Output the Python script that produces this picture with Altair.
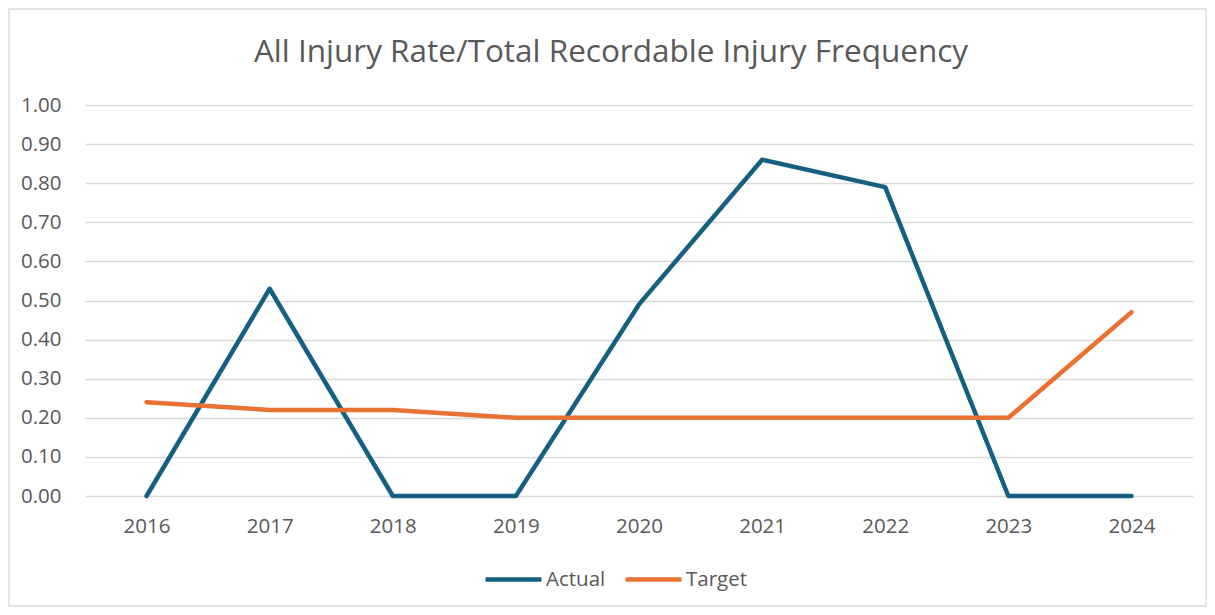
import altair as alt
import pandas as pd

years = ["2016", "2017", "2018", "2019", "2020", "2021", "2022", "2023", "2024"]
actual = [0.00, 0.53, 0.00, 0.00, 0.49, 0.86, 0.79, 0.00, 0.00]
target = [0.24, 0.22, 0.22, 0.20, 0.20, 0.20, 0.20, 0.20, 0.47]
series_names = ["Actual", "Target"]
series_colors = ["#156082", "#E97132"]
y_ticks = [0.0, 0.1, 0.2, 0.3, 0.4, 0.5, 0.6, 0.7, 0.8, 0.9, 1.0]
title_text = "All Injury Rate/Total Recordable Injury Frequency"

rows = []
for i, y in enumerate(years):
    rows.append({"Year": y, "Series": "Actual", "Value": actual[i]})
    rows.append({"Year": y, "Series": "Target", "Value": target[i]})
df = pd.DataFrame(rows)

W, H = 1108, 391
FONT = "Open Sans"
TXT = "#595959"
FS = 20.5

one = pd.DataFrame({"a": [0]})

border = alt.Chart(one).mark_rect(
    fill=None, stroke="#d9d9d9", strokeWidth=1.3, clip=False
).encode(
    x=alt.value(-76), x2=alt.value(W + 13),
    y=alt.value(-96), y2=alt.value(H + 110),
)

title = alt.Chart(one).mark_text(
    text=title_text, font=FONT, fontSize=31.5, color=TXT,
    align="center", baseline="alphabetic", clip=False
).encode(x=alt.value(526), y=alt.value(-43))

lines = alt.Chart(df).mark_line(strokeWidth=4.5, strokeCap="round", strokeJoin="round").encode(
    x=alt.X("Year:N", sort=years, scale=alt.Scale(paddingInner=0, paddingOuter=0.5),
            axis=alt.Axis(title=None, labelAngle=0, ticks=False, domain=False, grid=False,
                          labelFont=FONT, labelFontSize=FS, labelColor=TXT, labelPadding=20)),
    y=alt.Y("Value:Q", scale=alt.Scale(domain=[0, 1]),
            axis=alt.Axis(title=None, values=y_ticks, format=".2f", ticks=False, domain=False,
                          labelFont=FONT, labelFontSize=FS, labelColor=TXT, labelPadding=24,
                          gridColor="#d9d9d9", gridWidth=1.3)),
    color=alt.Color("Series:N", sort=series_names,
                    scale=alt.Scale(domain=series_names, range=series_colors),
                    legend=alt.Legend(title=None, orient="none", direction="horizontal",
                                      legendX=398, legendY=444,
                                      symbolType="stroke", symbolSize=3136, symbolStrokeWidth=4.5,
                                      labelFont=FONT, labelFontSize=FS, labelColor=TXT,
                                      labelOffset=2, columnPadding=10)),
)

chart = alt.layer(border, title, lines).properties(
    width=W, height=H,
    padding={"left": 77, "top": 97, "right": 14, "bottom": 111},
    autosize=alt.AutoSizeParams(type="none"),
).configure_view(stroke=None)

chart.save("out.html", embed_options={"renderer": "svg", "actions": False})
